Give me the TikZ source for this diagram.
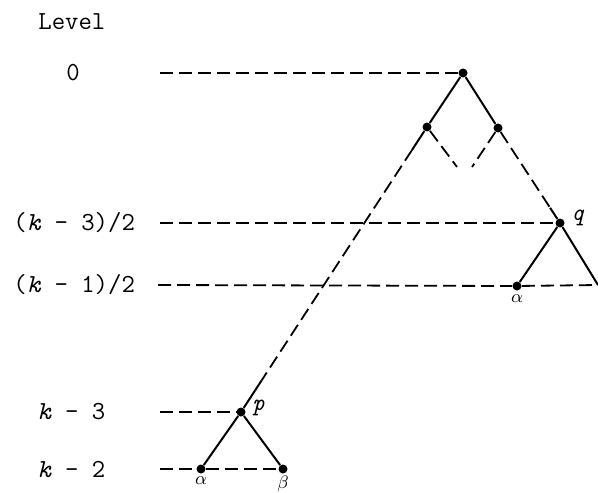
\documentclass[tikz,border=0pt]{standalone}
\usepackage{fontspec}
\usetikzlibrary{calc}

\begin{document}
\begin{tikzpicture}[x=0.5pt, y=-0.5pt,
  dot/.style={circle, fill=black, inner sep=0pt, minimum size=4.5pt},
  edge/.style={line width=1pt},
  dline/.style={line width=0.9pt, dash pattern=on 6.5pt off 3pt},
  lvl/.style={anchor=west, inner sep=0pt, font=\ttfamily\fontsize{13}{15}\selectfont},
  tag/.style={inner sep=1pt, font=\ttfamily\fontsize{12}{13}\selectfont\itshape},
  gr/.style={inner sep=1pt, font=\fontsize{9.5}{10}\selectfont}
]
\useasboundingbox (0,0) rectangle (598,492);
\node[lvl] (lev) at (38,22) {Level};
\node[lvl, anchor=center] (n0) at (73,73) {0};
\node[lvl] (n1) at (13,223) {(\textit{k} - 3)/2};
\node[lvl] (n2) at (13,285) {(\textit{k} - 1)/2};
\node[lvl] (n3) at (37,412) {\textit{k} - 3};
\node[lvl] (n4) at (37,469) {\textit{k} - 2};
\coordinate (s0) at (160,73);
\coordinate (s1) at (160,223);
\coordinate (s2) at (158,285);
\coordinate (s3) at (160,412);
\coordinate (s4) at (160,469);
\node[dot] (root) at (463,73) {};
\node[dot] (lc) at (427,127) {};
\node[dot] (rc) at (498,128) {};
\node[dot] (q) at (560,223) {};
\node[dot] (qa) at (517,286) {};
\coordinate (qb) at (598,285);
\node[dot] (p) at (241,412) {};
\node[dot] (pa) at (201,469) {};
\node[dot] (pb) at (283,469) {};
\coordinate (lcend) at (457,167);
\coordinate (rcend) at (472,167);
\coordinate (lcx) at ($(lc)!0.08!(p)$);
\coordinate (px) at ($(p)!0.11!(lc)$);
\coordinate (qx) at ($(q)!0.16!(rc)$);
\node[tag, anchor=west] at (569,218) {q};
\node[tag, anchor=west] at (250,408) {p};
\node[gr, anchor=north] at (517,292) {$\alpha$};
\node[gr, anchor=north] at (201,474) {$\alpha$};
\node[gr, anchor=north] at (283,474) {$\beta$};
\draw[dline] (s0) -- (root);
\draw[dline] (s1) -- (q);
\draw[dline] (s2) -- (qa);
\draw[dline] (qa) -- (qb);
\draw[dline] (s3) -- (p);
\draw[dline] (s4) -- (pa);
\draw[dline] (pa) -- (pb);
\draw[edge] (root) -- (lc);
\draw[edge] (root) -- (rc);
\draw[edge] (lc) -- (lcx);
\draw[dline] (lcx) -- (px);
\draw[edge] (px) -- (p);
\draw[dline] (lc) -- (lcend);
\draw[dline] (rc) -- (rcend);
\draw[dline] (rc) -- (qx);
\draw[edge] (qx) -- (q);
\draw[edge] (q) -- (qa);
\draw[edge] (q) -- (qb);
\draw[edge] (p) -- (pa);
\draw[edge] (p) -- (pb);
\end{tikzpicture}
\end{document}
